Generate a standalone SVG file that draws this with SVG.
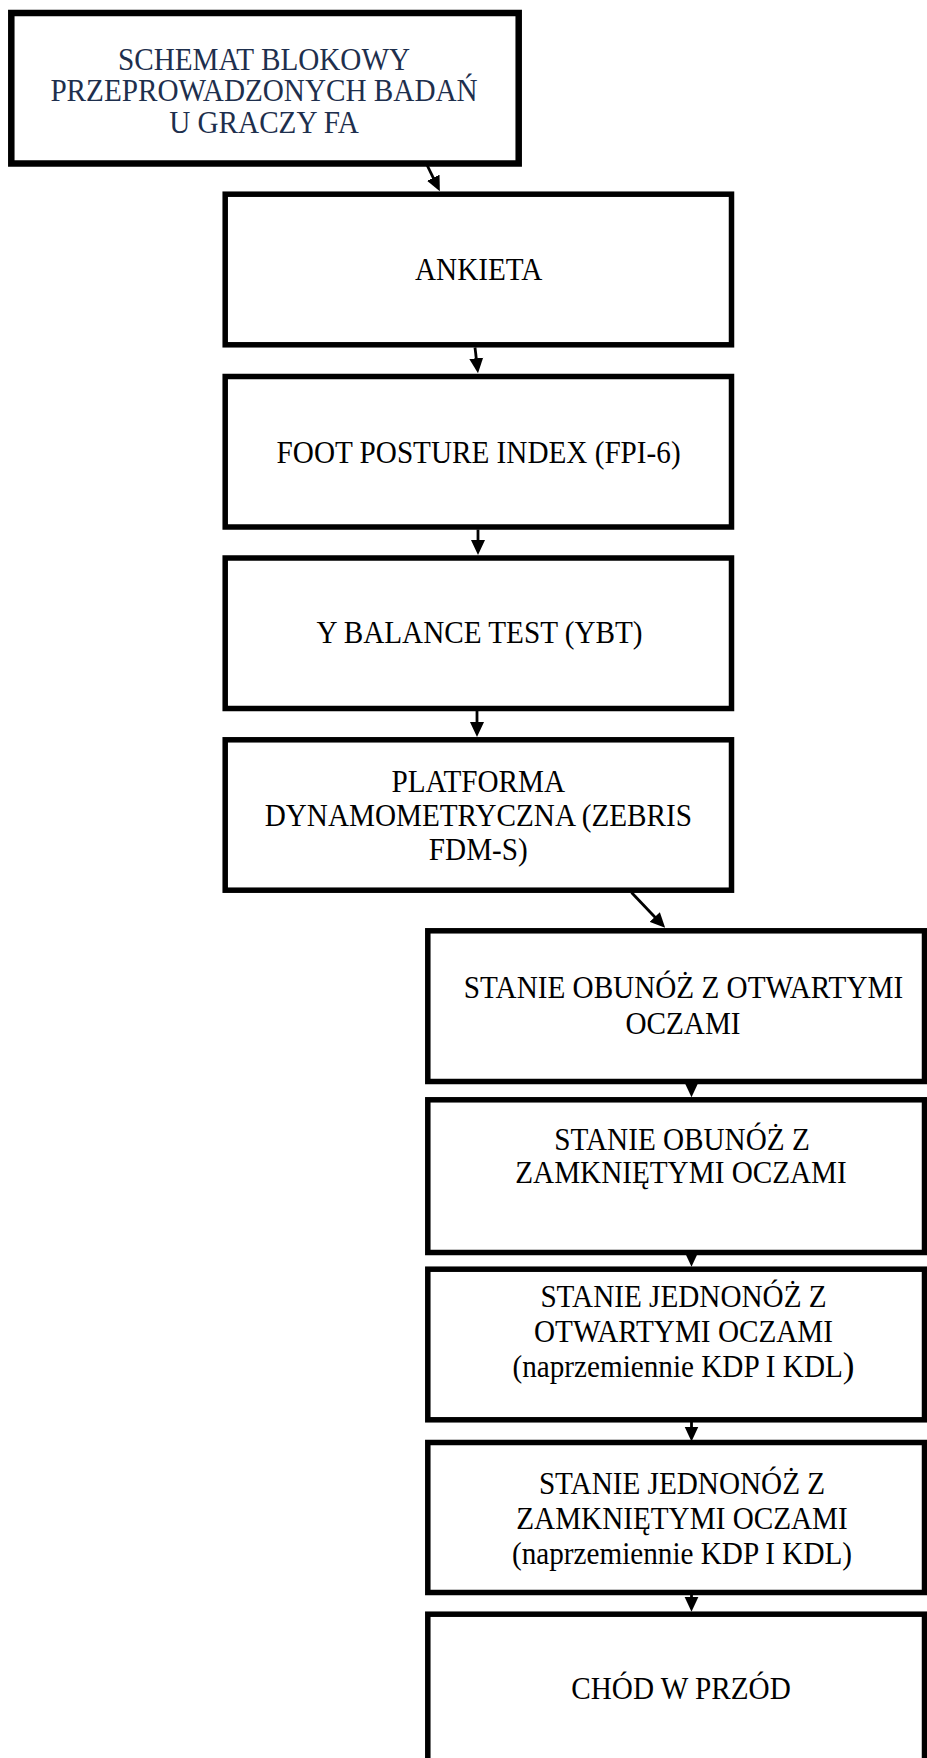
<svg xmlns="http://www.w3.org/2000/svg" width="927" height="1758" viewBox="0 0 927 1758">
<style>
.box{fill:#fff;stroke:#000;stroke-width:5.5}
.topbox{stroke-width:6.5}
.t{font-family:"Liberation Serif","Times New Roman",serif;font-size:29.2px;text-anchor:middle;fill:#000}
.navy{fill:#1e2f4d}
.conn{stroke:#000;stroke-width:2.8;fill:none;marker-end:url(#ah)}
</style>
<defs>
<marker id="ah" markerUnits="userSpaceOnUse" markerWidth="15" markerHeight="15" viewBox="0 0 15 15" refX="9" refY="7.5" orient="auto">
<path d="M0,0.5 L15,7.5 L0,14.5 Z" fill="#000"/>
</marker>
</defs>
<rect width="927" height="1758" fill="#fff"/>

<g id="n-title">
<rect class="box topbox" x="11.3" y="13" width="507.4" height="150.5"/>
<text class="t navy" transform="translate(264,70) scale(1,1.05)">SCHEMAT BLOKOWY</text>
<text class="t navy" transform="translate(264,101) scale(1,1.05)">PRZEPROWADZONYCH BADAŃ</text>
<text class="t navy" transform="translate(264,133) scale(1,1.05)">U GRACZY FA</text>
</g>

<g id="n-ankieta">
<rect class="box" x="225.2" y="194.2" width="506.3" height="150.6"/>
<text class="t" transform="translate(478.7,280) scale(1,1.05)">ANKIETA</text>
</g>

<g id="n-fpi">
<rect class="box" x="225.2" y="376.5" width="506.3" height="150.5"/>
<text class="t" transform="translate(478.6,462.5) scale(1,1.05)">FOOT POSTURE INDEX (FPI-6)</text>
</g>

<g id="n-ybt">
<rect class="box" x="225.2" y="558" width="506.3" height="150.5"/>
<text class="t" transform="translate(479.5,643) scale(1,1.05)">Y BALANCE TEST (YBT)</text>
</g>

<g id="n-platforma">
<rect class="box" x="225.2" y="739.8" width="506.3" height="150.4"/>
<text class="t" transform="translate(478.3,791.7) scale(1,1.05)">PLATFORMA</text>
<text class="t" transform="translate(478.3,825.5) scale(1,1.05)">DYNAMOMETRYCZNA (ZEBRIS</text>
<text class="t" transform="translate(478.3,860) scale(1,1.05)">FDM-S)</text>
</g>

<g id="n-obunoz-otwarte">
<rect class="box" x="427.8" y="930.8" width="496.7" height="150.7"/>
<text class="t" transform="translate(683.5,998) scale(1,1.05)">STANIE OBUNÓŻ Z OTWARTYMI</text>
<text class="t" transform="translate(683,1034) scale(1,1.05)">OCZAMI</text>
</g>

<g id="n-obunoz-zamkniete">
<rect class="box" x="427.8" y="1099.8" width="496.7" height="152.7"/>
<text class="t" transform="translate(682,1150) scale(1,1.05)">STANIE OBUNÓŻ Z</text>
<text class="t" transform="translate(681,1183) scale(1,1.05)">ZAMKNIĘTYMI OCZAMI</text>
</g>

<g id="n-jednonoz-otwarte">
<rect class="box" x="427.8" y="1269.2" width="496.7" height="150.6"/>
<text class="t" transform="translate(683.5,1307) scale(1,1.05)">STANIE JEDNONÓŻ Z</text>
<text class="t" transform="translate(683.5,1342) scale(1,1.05)">OTWARTYMI OCZAMI</text>
<text class="t" transform="translate(683.5,1377) scale(1,1.05)">(naprzemiennie KDP I KDL<tspan font-size="35">)</tspan></text>
</g>

<g id="n-jednonoz-zamkniete">
<rect class="box" x="427.8" y="1442.5" width="496.7" height="150"/>
<text class="t" transform="translate(682,1493.6) scale(1,1.05)">STANIE JEDNONÓŻ Z</text>
<text class="t" transform="translate(682,1529) scale(1,1.05)">ZAMKNIĘTYMI OCZAMI</text>
<text class="t" transform="translate(682,1564) scale(1,1.05)">(naprzemiennie KDP I KDL)</text>
</g>

<g id="n-chod">
<rect class="box" x="427.8" y="1614.2" width="496.7" height="160"/>
<text class="t" transform="translate(681,1699.3) scale(1,1.05)">CHÓD W PRZÓD</text>
</g>

<g id="connectors">
<path class="conn" d="M427,165 L437.2,185.8"/>
<path class="conn" d="M475,347.5 L477.3,367.2"/>
<path class="conn" d="M478,529.5 L478,549"/>
<path class="conn" d="M477,711 L477,731"/>
<path class="conn" d="M631.5,892.5 L661,923.5"/>
<path class="conn" d="M691.5,1083.5 L691.5,1091.3"/>
<path class="conn" d="M691.5,1254.5 L691.5,1260.7"/>
<path class="conn" d="M691.5,1422 L691.5,1435.5"/>
<path class="conn" d="M691.5,1594 L691.5,1605.7"/>
</g>
</svg>
